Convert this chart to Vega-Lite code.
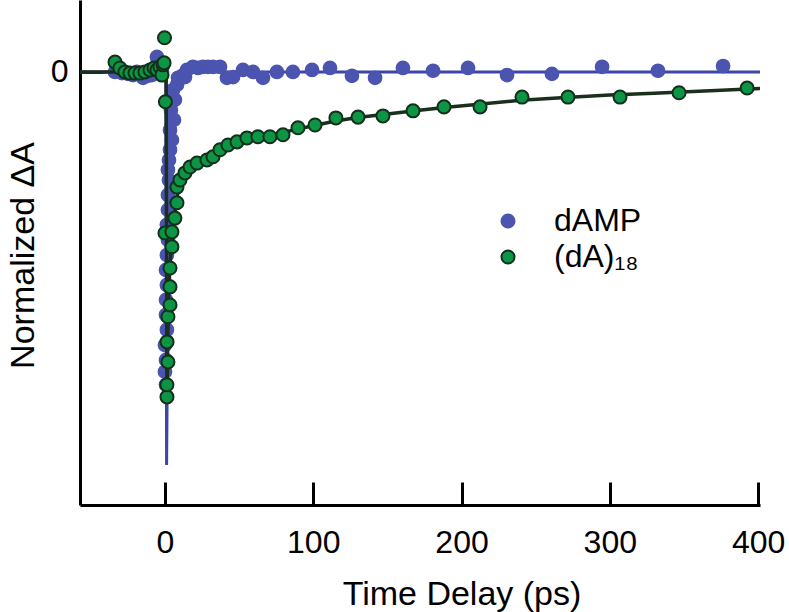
{
  "$schema": "https://vega.github.io/schema/vega-lite/v6.json",
  "width": 680,
  "height": 505,
  "autosize": {"type": "none"},
  "padding": {"left": 80, "top": 0, "right": 29, "bottom": 107},
  "background": "white",
  "config": {
    "view": {"stroke": null},
    "font": "Liberation Sans",
    "axis": {"grid": false, "domainColor": "black", "domainWidth": 3, "tickColor": "black", "tickWidth": 3, "labelColor": "black", "titleColor": "black", "labelFont": "Liberation Sans", "titleFont": "Liberation Sans", "labelFontSize": 32, "titleFontSize": 34, "titleFontWeight": "normal", "labelFlush": false}
  },
  "datasets": {
    "fit": [
      {"series": "dAMP", "t": -57.3, "v": 0}, {"series": "dAMP", "t": 0.6, "v": 0}, {"series": "dAMP", "t": 1.1, "v": -1.0},
      {"series": "dAMP", "t": 1.6, "v": -0.75}, {"series": "dAMP", "t": 2.0, "v": -0.5}, {"series": "dAMP", "t": 2.5, "v": -0.32},
      {"series": "dAMP", "t": 3.0, "v": -0.22}, {"series": "dAMP", "t": 4.0, "v": -0.13}, {"series": "dAMP", "t": 5.0, "v": -0.08},
      {"series": "dAMP", "t": 6.5, "v": -0.045}, {"series": "dAMP", "t": 8, "v": -0.025}, {"series": "dAMP", "t": 10, "v": -0.01},
      {"series": "dAMP", "t": 14, "v": 0}, {"series": "dAMP", "t": 401.3, "v": 0},
      {"series": "dA18", "t": -57.3, "v": 0}, {"series": "dA18", "t": 0.8, "v": 0}, {"series": "dA18", "t": 1.3, "v": -0.83},
      {"series": "dA18", "t": 2.0, "v": -0.66}, {"series": "dA18", "t": 2.7, "v": -0.55}, {"series": "dA18", "t": 3.4, "v": -0.49},
      {"series": "dA18", "t": 4.7, "v": -0.43}, {"series": "dA18", "t": 6, "v": -0.38}, {"series": "dA18", "t": 8, "v": -0.32},
      {"series": "dA18", "t": 10, "v": -0.28}, {"series": "dA18", "t": 13, "v": -0.255}, {"series": "dA18", "t": 17, "v": -0.24},
      {"series": "dA18", "t": 22, "v": -0.23}, {"series": "dA18", "t": 28, "v": -0.222}, {"series": "dA18", "t": 33, "v": -0.212},
      {"series": "dA18", "t": 40, "v": -0.195}, {"series": "dA18", "t": 50, "v": -0.178}, {"series": "dA18", "t": 60, "v": -0.168},
      {"series": "dA18", "t": 75, "v": -0.158}, {"series": "dA18", "t": 90, "v": -0.145}, {"series": "dA18", "t": 100, "v": -0.137},
      {"series": "dA18", "t": 115, "v": -0.125}, {"series": "dA18", "t": 130, "v": -0.116}, {"series": "dA18", "t": 150, "v": -0.107},
      {"series": "dA18", "t": 170, "v": -0.098}, {"series": "dA18", "t": 190, "v": -0.09}, {"series": "dA18", "t": 210, "v": -0.083},
      {"series": "dA18", "t": 240, "v": -0.072}, {"series": "dA18", "t": 270, "v": -0.065}, {"series": "dA18", "t": 300, "v": -0.059},
      {"series": "dA18", "t": 330, "v": -0.054}, {"series": "dA18", "t": 360, "v": -0.049}, {"series": "dA18", "t": 401.3, "v": -0.042}
    ],
    "blue": [
      {"series": "dAMP", "t": -33.7, "v": 0}, {"series": "dAMP", "t": -29, "v": -0.003}, {"series": "dAMP", "t": -25, "v": -0.005},
      {"series": "dAMP", "t": -21.6, "v": -0.008}, {"series": "dAMP", "t": -18.9, "v": 0}, {"series": "dAMP", "t": -14.8, "v": -0.015},
      {"series": "dAMP", "t": -11.5, "v": -0.01}, {"series": "dAMP", "t": -8.8, "v": -0.008}, {"series": "dAMP", "t": -5.4, "v": 0.038},
      {"series": "dAMP", "t": -3.4, "v": 0.018}, {"series": "dAMP", "t": -2.0, "v": 0},
      {"series": "dAMP", "t": 0.7, "v": -0.796}, {"series": "dAMP", "t": 0, "v": -0.763}, {"series": "dAMP", "t": 0.7, "v": -0.733},
      {"series": "dAMP", "t": 0, "v": -0.695}, {"series": "dAMP", "t": 1.3, "v": -0.656}, {"series": "dAMP", "t": 0.7, "v": -0.618},
      {"series": "dAMP", "t": 0.7, "v": -0.58}, {"series": "dAMP", "t": 1.3, "v": -0.542}, {"series": "dAMP", "t": 0.7, "v": -0.504},
      {"series": "dAMP", "t": 1.3, "v": -0.466}, {"series": "dAMP", "t": 2.0, "v": -0.427}, {"series": "dAMP", "t": 1.3, "v": -0.389},
      {"series": "dAMP", "t": 2.0, "v": -0.351}, {"series": "dAMP", "t": 2.0, "v": -0.313}, {"series": "dAMP", "t": 2.7, "v": -0.275},
      {"series": "dAMP", "t": 2.0, "v": -0.249}, {"series": "dAMP", "t": 2.7, "v": -0.224}, {"series": "dAMP", "t": 3.4, "v": -0.198},
      {"series": "dAMP", "t": 4.7, "v": -0.173}, {"series": "dAMP", "t": 3.4, "v": -0.148}, {"series": "dAMP", "t": 6.1, "v": -0.122},
      {"series": "dAMP", "t": 4.0, "v": -0.097}, {"series": "dAMP", "t": 6.7, "v": -0.071}, {"series": "dAMP", "t": 5.4, "v": -0.046},
      {"series": "dAMP", "t": 8.1, "v": -0.033}, {"series": "dAMP", "t": 8.8, "v": -0.015}, {"series": "dAMP", "t": 11.5, "v": -0.01},
      {"series": "dAMP", "t": 13.5, "v": -0.013}, {"series": "dAMP", "t": 14.8, "v": 0.005}, {"series": "dAMP", "t": 18.9, "v": 0.013},
      {"series": "dAMP", "t": 22.3, "v": 0.01}, {"series": "dAMP", "t": 25.6, "v": 0.013}, {"series": "dAMP", "t": 29.0, "v": 0.013},
      {"series": "dAMP", "t": 32.4, "v": 0.013}, {"series": "dAMP", "t": 37.1, "v": 0.013}, {"series": "dAMP", "t": 41.8, "v": -0.015},
      {"series": "dAMP", "t": 45.9, "v": -0.013}, {"series": "dAMP", "t": 52.6, "v": 0.005}, {"series": "dAMP", "t": 59.4, "v": 0},
      {"series": "dAMP", "t": 66.1, "v": -0.015}, {"series": "dAMP", "t": 75.5, "v": 0}, {"series": "dAMP", "t": 86.3, "v": 0},
      {"series": "dAMP", "t": 99.2, "v": 0.005}, {"series": "dAMP", "t": 111.3, "v": 0.01}, {"series": "dAMP", "t": 126.1, "v": -0.01},
      {"series": "dAMP", "t": 141.7, "v": -0.015}, {"series": "dAMP", "t": 160.5, "v": 0.01}, {"series": "dAMP", "t": 180.8, "v": 0.003},
      {"series": "dAMP", "t": 204.4, "v": 0.01}, {"series": "dAMP", "t": 230.7, "v": -0.008}, {"series": "dAMP", "t": 261.0, "v": -0.005},
      {"series": "dAMP", "t": 294.8, "v": 0.013}, {"series": "dAMP", "t": 332.5, "v": 0.003}, {"series": "dAMP", "t": 376.4, "v": 0.015}
    ],
    "green": [
      {"series": "(dA)₁₈", "t": -33.7, "v": 0.025}, {"series": "(dA)₁₈", "t": -30.4, "v": 0.01}, {"series": "(dA)₁₈", "t": -27.0, "v": 0},
      {"series": "(dA)₁₈", "t": -23.6, "v": -0.003}, {"series": "(dA)₁₈", "t": -20.2, "v": -0.003}, {"series": "(dA)₁₈", "t": -16.9, "v": -0.003},
      {"series": "(dA)₁₈", "t": -13.5, "v": 0}, {"series": "(dA)₁₈", "t": -10.1, "v": 0.005}, {"series": "(dA)₁₈", "t": -7.4, "v": 0.01},
      {"series": "(dA)₁₈", "t": -5.4, "v": 0.005}, {"series": "(dA)₁₈", "t": -3.4, "v": 0.013}, {"series": "(dA)₁₈", "t": -2.0, "v": -0.008},
      {"series": "(dA)₁₈", "t": -1.3, "v": 0.018}, {"series": "(dA)₁₈", "t": -0.6, "v": 0.023}, {"series": "(dA)₁₈", "t": -0.3, "v": 0.087},
      {"series": "(dA)₁₈", "t": 0.3, "v": -0.076},
      {"series": "(dA)₁₈", "t": 1.35, "v": -0.827}, {"series": "(dA)₁₈", "t": 1.3, "v": -0.796}, {"series": "(dA)₁₈", "t": 2.0, "v": -0.738},
      {"series": "(dA)₁₈", "t": 1.4, "v": -0.687}, {"series": "(dA)₁₈", "t": 2.0, "v": -0.623}, {"series": "(dA)₁₈", "t": 3.4, "v": -0.593},
      {"series": "(dA)₁₈", "t": 3.4, "v": -0.547}, {"series": "(dA)₁₈", "t": 3.4, "v": -0.499}, {"series": "(dA)₁₈", "t": 4.7, "v": -0.445},
      {"series": "(dA)₁₈", "t": 0, "v": -0.41}, {"series": "(dA)₁₈", "t": 4.7, "v": -0.407}, {"series": "(dA)₁₈", "t": 6.7, "v": -0.372},
      {"series": "(dA)₁₈", "t": 8.1, "v": -0.333}, {"series": "(dA)₁₈", "t": 8.1, "v": -0.293}, {"series": "(dA)₁₈", "t": 10.1, "v": -0.275},
      {"series": "(dA)₁₈", "t": 13.5, "v": -0.257}, {"series": "(dA)₁₈", "t": 16.9, "v": -0.242}, {"series": "(dA)₁₈", "t": 21.6, "v": -0.232},
      {"series": "(dA)₁₈", "t": 28.3, "v": -0.224}, {"series": "(dA)₁₈", "t": 32.4, "v": -0.216}, {"series": "(dA)₁₈", "t": 37.1, "v": -0.198},
      {"series": "(dA)₁₈", "t": 42.5, "v": -0.186}, {"series": "(dA)₁₈", "t": 48.6, "v": -0.178}, {"series": "(dA)₁₈", "t": 55.3, "v": -0.168},
      {"series": "(dA)₁₈", "t": 62.7, "v": -0.165}, {"series": "(dA)₁₈", "t": 70.8, "v": -0.165}, {"series": "(dA)₁₈", "t": 79.6, "v": -0.16},
      {"series": "(dA)₁₈", "t": 89.7, "v": -0.142}, {"series": "(dA)₁₈", "t": 101.2, "v": -0.135}, {"series": "(dA)₁₈", "t": 115.3, "v": -0.117},
      {"series": "(dA)₁₈", "t": 130.2, "v": -0.115}, {"series": "(dA)₁₈", "t": 147.0, "v": -0.112}, {"series": "(dA)₁₈", "t": 167.3, "v": -0.099},
      {"series": "(dA)₁₈", "t": 188.2, "v": -0.089}, {"series": "(dA)₁₈", "t": 212.5, "v": -0.089}, {"series": "(dA)₁₈", "t": 240.8, "v": -0.064},
      {"series": "(dA)₁₈", "t": 271.8, "v": -0.064}, {"series": "(dA)₁₈", "t": 306.9, "v": -0.064}, {"series": "(dA)₁₈", "t": 346.7, "v": -0.053},
      {"series": "(dA)₁₈", "t": 392.6, "v": -0.041}
    ]
  },
  "encoding": {
    "x": {"field": "t", "type": "quantitative", "scale": {"domain": [-57.3, 401.3], "nice": false, "zero": false},
      "axis": {"values": [0, 100, 200, 300, 400], "tickSize": -23, "labelPadding": 45, "title": "Time Delay (ps)", "titleX": 381.5, "titleY": 99, "titleBaseline": "alphabetic", "titleAnchor": null, "titleAlign": "center"}},
    "y": {"field": "v", "type": "quantitative", "scale": {"domain": [-1.102, 0.183], "nice": false, "zero": false},
      "axis": {"values": [0], "tickSize": -23, "labelPadding": 35, "title": "Normalized ΔA", "titleX": -47, "titleY": 255, "titleAngle": -90, "titleBaseline": "alphabetic", "titleAlign": "center"}}
  },
  "layer": [
    {"data": {"name": "fit"}, "transform": [{"filter": "datum.series === 'dAMP'"}],
      "mark": {"type": "line", "color": "#3a46a8", "strokeWidth": 3, "clip": true}},
    {"data": {"name": "blue"},
      "mark": {"type": "point", "filled": true, "opacity": 1, "size": 175, "strokeWidth": 1.5, "shape": "circle"},
      "encoding": {
        "fill": {"field": "series", "type": "nominal", "scale": {"domain": ["dAMP", "(dA)₁₈"], "range": ["#4b55b0", "#0d9546"]},
          "legend": {"orient": "none", "legendX": 412, "legendY": 205, "title": null, "labelFontSize": 32, "labelFont": "Liberation Sans", "labelColor": "black", "labelOffset": 30, "symbolSize": 170, "symbolStrokeWidth": 2, "rowPadding": 4, "symbolType": "circle"}},
        "stroke": {"field": "series", "type": "nominal", "scale": {"domain": ["dAMP", "(dA)₁₈"], "range": ["#4b55b0", "#13301b"]},
          "legend": {"orient": "none", "legendX": 412, "legendY": 205, "title": null, "labelFontSize": 32, "labelFont": "Liberation Sans", "labelColor": "black", "labelOffset": 30, "symbolSize": 170, "symbolStrokeWidth": 2, "rowPadding": 4, "symbolType": "circle"}}
      }},
    {"data": {"name": "fit"}, "transform": [{"filter": "datum.series === 'dA18'"}],
      "mark": {"type": "line", "color": "#1b2f1d", "strokeWidth": 3.5, "clip": true}},
    {"data": {"name": "green"},
      "mark": {"type": "point", "filled": true, "opacity": 1, "size": 170, "strokeWidth": 2, "shape": "circle"},
      "encoding": {
        "fill": {"field": "series", "type": "nominal"},
        "stroke": {"field": "series", "type": "nominal"}
      }}
  ]
}
